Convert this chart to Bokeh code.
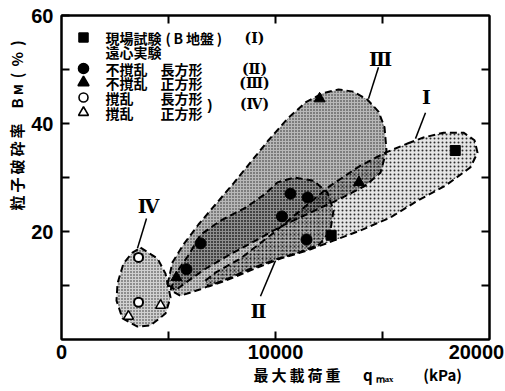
from bokeh.plotting import figure
from bokeh.models import Range1d, FixedTicker, LinearAxis, Label, Title
from bokeh.core.properties import value
from bokeh.embed import file_html
from bokeh.resources import INLINE

# ---- measured points: maximum load q_max (kPa) vs. particle breakage B_M (%) ----
field_q = [12600, 18400]                 # field test (B site)
field_bm = [19.3, 35.0]
und_rect_q = [5840, 6500, 10300, 10700, 11450, 11500]   # undisturbed, rectangular
und_rect_bm = [13.0, 17.8, 22.8, 27.0, 18.5, 26.3]
und_sq_q = [5370, 12060, 13900]          # undisturbed, square
und_sq_bm = [11.5, 44.6, 29.1]
dis_rect_q = [3600, 3600]                # disturbed, rectangular
dis_rect_bm = [15.2, 6.9]
dis_sq_q = [3130, 4630]                  # disturbed, square
dis_sq_bm = [4.3, 6.3]

# ---- outlines of the grouped zones (q_max, B_M) ----
zone1_q = [16169, 16916, 17851, 18785, 19299, 19440, 19113, 17944, 16636, 15374, 13972,
           12711, 11496, 10234, 8832, 7664, 6869, 6729, 7196, 8365, 9767, 11168, 12570,
           13972, 15141]
zone1_bm = [36.3, 37.4, 38.3, 38.3, 36.9, 34.6, 31.9, 28.5, 25.7, 22.6, 20.2,
            18.3, 16.5, 15.0, 12.8, 10.9, 9.8, 10.9, 12.4, 15.0, 19.3, 23.9, 28.5,
            32.2, 34.6]
zone3_q = [4953, 5187, 5701, 6402, 7196, 7991, 8832, 9673, 10561, 11402, 12197, 12944,
           13645, 14299, 14813, 15094, 15187, 14907, 14206, 13038, 11636, 10327, 9066,
           7804, 6729, 5935, 5327]
zone3_bm = [10.2, 14.3, 17.6, 21.3, 25.0, 28.7, 32.8, 36.9, 40.9, 43.9, 45.6, 46.3,
            45.9, 44.4, 42.2, 39.3, 35.0, 30.9, 28.5, 26.1, 23.5, 21.1, 18.3,
            15.6, 13.1, 10.9, 9.1]
zone2_q = [5094, 5374, 5935, 6495, 7430, 8598, 9533, 10094, 10888, 11776, 12430, 12711,
           12570, 12056, 11075, 10000, 8832, 7664, 6495, 5561]
zone2_bm = [9.1, 12.4, 15.6, 19.4, 22.0, 24.4, 27.0, 29.1, 30.0, 29.4, 27.2, 23.9,
            20.2, 17.6, 16.1, 14.8, 13.1, 11.1, 9.3, 8.1]
zone4_q = [3692, 4486, 4860, 5094, 4860, 4159, 3551, 2851, 2570, 2617, 2897, 3318]
zone4_bm = [17.0, 15.0, 12.2, 7.8, 4.8, 2.6, 2.4, 3.9, 7.2, 10.4, 14.1, 16.1]

# zone tags with their leader lines (tag position, line start, line end)
zone_tags = ["Ⅰ", "Ⅱ", "Ⅲ", "Ⅳ"]
tag_q = [17056, 9206, 14907, 4065]
tag_bm = [45.0, 5.2, 52.0, 24.8]
lead_q0 = [17009, 9299, 14813, 3972]
lead_bm0 = [42.0, 8.0, 50.4, 22.4]
lead_q1 = [16542, 10000, 14346, 3551]
lead_bm1 = [37.2, 14.6, 44.6, 16.9]

# axis ticks and their printed labels
x_ticks = [5000, 10000, 15000]
x_label_pos = [0, 10000, 19390]
x_label_txt = ["0", "10000", "20000"]
y_ticks = [10, 20, 30, 40, 50]
y_label_txt = {20: "20", 40: "40", 60: "60"}

X_MAX, Y_MAX = 20000, 60
JP = "Noto Sans CJK JP"
NUM = "Liberation Sans"
SERIF = "DejaVu Serif"

p = figure(width=505, height=391, output_backend="svg", toolbar_location=None,
           x_range=Range1d(0, X_MAX), y_range=Range1d(0, Y_MAX),
           min_border_left=61, min_border_right=16, min_border_top=15, min_border_bottom=52,
           x_axis_type=None, y_axis_type=None)
p.grid.visible = False
p.outline_line_color = "black"
p.outline_line_width = 2
p.background_fill_color = "white"
p.border_fill_color = "white"


def tick_axis(ticks, labels=None):
    ax = LinearAxis(ticker=FixedTicker(ticks=ticks, minor_ticks=[]))
    ax.major_tick_in = 8
    ax.major_tick_out = 0
    ax.minor_tick_line_color = None
    ax.major_tick_line_width = 2
    ax.major_tick_line_color = "black"
    ax.axis_line_width = 2
    ax.axis_line_color = "black"
    ax.major_label_text_font = NUM
    ax.major_label_text_font_style = "bold"
    ax.major_label_text_color = "black"
    if labels is None:
        ax.major_label_overrides = {t: "" for t in ticks}
        ax.major_label_text_font_size = "0px"
        ax.major_label_standoff = 0
    else:
        ax.major_label_overrides = labels
        ax.major_label_text_font_size = "20px"
    return ax


# bottom: tick marks, then a rule-less axis carrying the printed values
p.add_layout(tick_axis(x_ticks), "below")
xlab = tick_axis(x_label_pos, dict(zip(x_label_pos, x_label_txt)))
xlab.major_tick_line_color = None
xlab.axis_line_color = None
xlab.major_label_standoff = 5
p.add_layout(xlab, "below")

p.add_layout(tick_axis(x_ticks), "above")

yax = tick_axis(y_ticks + [60], {**{t: "" for t in y_ticks}, **y_label_txt})
yax.major_label_standoff = 8
p.add_layout(yax, "left")
p.add_layout(tick_axis(y_ticks), "right")

# axis titles
p.add_layout(Title(text="最\u2009大\u2009載\u2009荷\u2009重\u3000\u2002q\u2009ₘₐₓ\u2003\u2003(kPa)",
                   align="left", offset=192, standoff=0, text_font=JP, text_font_size="15px",
                   text_font_style="bold", text_color="black"), "below")
p.add_layout(Title(text="粒\u2009子\u2009破\u2009砕\u2009率\u3000B\u2009м\u2009\u2009(\u2009\u2009%\u2009\u2009)",
                   align="left", offset=129, standoff=4, text_font=JP, text_font_size="15px",
                   text_font_style="bold", text_color="black"), "left")

# ---- zones ----
dash = dict(line_color="black", line_dash="7 4", line_width=2)
p.patch(zone1_q, zone1_bm, fill_color="black", fill_alpha=0.10,
        hatch_pattern="dot", hatch_scale=4, hatch_weight=1.2, hatch_color="black", hatch_alpha=0.8, **dash)
p.patch(zone3_q, zone3_bm, fill_color="black", fill_alpha=0.28,
        hatch_pattern="dot", hatch_scale=3, hatch_weight=1.2, hatch_color="black", hatch_alpha=0.8, **dash)
p.patch(zone2_q, zone2_bm, fill_color="black", fill_alpha=0.22,
        hatch_pattern="dot", hatch_scale=3, hatch_weight=1.2, hatch_color="black", hatch_alpha=0.8, **dash)
p.patch(zone4_q, zone4_bm, fill_color="black", fill_alpha=0.18,
        hatch_pattern="dot", hatch_scale=3, hatch_weight=1.2, hatch_color="black", hatch_alpha=0.8, **dash)

# ---- zone tags ----
p.segment(lead_q0, lead_bm0, lead_q1, lead_bm1, line_color="black", line_width=1.5)
p.text(tag_q, tag_bm, text=zone_tags, text_font=value(SERIF), text_font_style="bold",
       text_font_size="19px", text_align="center", text_baseline="middle", text_color="black")

# ---- measured points ----
p.scatter(field_q, field_bm, marker="square", size=10, fill_color="black", line_color="black")
p.scatter(und_rect_q, und_rect_bm, marker="circle", size=11, fill_color="black", line_color="black")
p.scatter(und_sq_q, und_sq_bm, marker="triangle", size=11, fill_color="black", line_color="black")
p.scatter(dis_rect_q, dis_rect_bm, marker="circle", size=9, fill_color="white", line_color="black", line_width=2)
p.scatter(dis_sq_q, dis_sq_bm, marker="triangle", size=10, fill_color="white", line_color="black", line_width=1.5)


# ---- key, placed by canvas pixel inside the frame ----
def at(px, py):
    return (px - 61) / 428 * X_MAX, (339 - py) / 324 * Y_MAX


def label(px, py, text, font=JP, size="14px", align="left"):
    x, y = at(px, py)
    p.add_layout(Label(x=x, y=y, text=text, text_font=font, text_font_size=size,
                       text_font_style="bold", text_align=align, text_baseline="middle",
                       text_color="black"))


rows = [37, 51, 68, 82, 97, 112]
key_markers = [("square", "black", 9), ("circle", "black", 10), ("triangle", "black", 11),
               ("circle", "white", 9), ("triangle", "white", 10)]
key_rows = [rows[0], rows[2], rows[3], rows[4], rows[5]]
for (mk, fc, sz), ry in zip(key_markers, key_rows):
    kx, ky = at(83, ry)
    p.scatter([kx], [ky], marker=mk, size=sz, fill_color=fc, line_color="black", line_width=1.6)

label(105, rows[0], "現場試験")
label(165, rows[0], "(\u2009B\u2009地盤\u2009)")
label(105, rows[1], "遠心実験")
label(105, rows[2], "不撹乱")
label(160, rows[2], "長方形")
label(105, rows[3], "不撹乱")
label(160, rows[3], "正方形")
label(105, rows[4], "撹乱")
label(160, rows[4], "長方形")
label(105, rows[5], "撹乱")
label(160, rows[5], "正方形")
label(207, 104, ")", font=NUM, size="14px")
label(254, rows[0], "(Ⅰ)", font=SERIF, size="14px", align="center")
label(254, rows[2], "(Ⅱ)", font=SERIF, size="14px", align="center")
label(254, rows[3], "(Ⅲ)", font=SERIF, size="14px", align="center")
label(254, 103, "(Ⅳ)", font=SERIF, size="14px", align="center")

open("out.html", "w").write(file_html(p, INLINE))
